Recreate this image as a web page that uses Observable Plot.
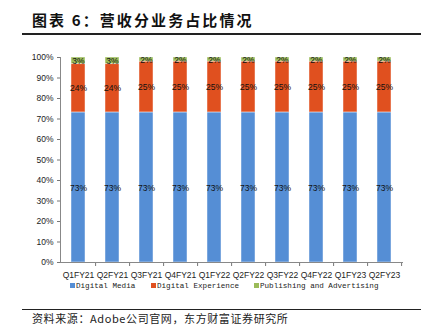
<!DOCTYPE html>
<html><head><meta charset="utf-8">
<script src="https://cdn.jsdelivr.net/npm/d3@7"></script>
<script src="https://cdn.jsdelivr.net/npm/@observablehq/plot@0.6"></script>
<style>
html,body{margin:0;padding:0;background:#fff;}
#root{position:relative;width:429px;height:335px;overflow:hidden;font-family:"Liberation Sans",Arial,sans-serif;}
.title{position:absolute;left:32px;top:9px;font-family:"Noto Sans CJK SC";font-weight:bold;font-size:15px;letter-spacing:2.1px;color:#111;white-space:nowrap;}
.hr{position:absolute;left:22px;width:399px;background:#222;}
.caption{position:absolute;left:32px;top:310px;font-family:"Noto Sans CJK SC";font-size:11px;letter-spacing:0.6px;color:#222;white-space:nowrap;}
#chart{position:absolute;left:0;top:45px;}
.legend{position:absolute;top:282px;left:0;width:429px;font-family:"Liberation Mono",monospace;font-size:7.6px;color:#222;white-space:nowrap;}
.legend span.item{position:absolute;top:0;}
.legend i{display:inline-block;width:5px;height:5px;margin-right:1px;vertical-align:0px;}
</style></head>
<body><div id="root">
<div class="title">图表 6：营收分业务占比情况</div>
<div class="hr" style="top:33px;height:1.5px"></div>
<div id="chart"></div>
<div class="legend" id="legend"></div>
<div class="hr" style="top:309px;height:1px"></div>
<div class="caption">资料来源：Adobe公司官网，东方财富证券研究所</div>
</div>
<script>
const quarters = ["Q1FY21","Q2FY21","Q3FY21","Q4FY21","Q1FY22","Q2FY22","Q3FY22","Q4FY22","Q1FY23","Q2FY23"];
const seriesNames = ["Digital Media","Digital Experience","Publishing and Advertising"];
const digitalMedia = [73.2,73.2,73.2,73.2,73.2,73.2,73.2,73.2,73.2,73.2];
const digitalExperience = [23.6,23.6,24.8,24.8,24.8,24.8,24.8,24.8,24.8,24.8];
const publishing = [3.2,3.2,2.0,2.0,2.0,2.0,2.0,2.0,2.0,2.0];
const colors = ["#558ED5","#E0501F","#9BBB59"];
const yTicks = [0,10,20,30,40,50,60,70,80,90,100];

const seriesValues = [digitalMedia, digitalExperience, publishing];
const rows = [];
quarters.forEach((q,i)=>{
  seriesNames.forEach((s,j)=>rows.push({q, s, v: seriesValues[j][i]}));
});

const W = 429, mL = 60, mR = 27;
const step = (W - mL - mR) / quarters.length;
const FONT = '"Liberation Sans Narrow", "Liberation Sans", Arial, sans-serif';

const plot = Plot.plot({
  width: W, height: 240,
  marginLeft: mL, marginRight: mR, marginTop: 12, marginBottom: 23,
  style: {fontFamily: FONT, fontSize: "8.5px", color: "#222", background: "transparent"},
  x: {domain: quarters, paddingInner: 0.59, paddingOuter: 0.295, label: null},
  y: {domain: [0,100], label: null},
  color: {domain: seriesNames, range: colors},
  marks: [
    Plot.barY(rows, Plot.stackY({x:"q", y:"v", fill:"s", order: seriesNames, stroke: "#ffffff", strokeOpacity: 0.45, strokeWidth: 1})),
    Plot.text(rows, Plot.stackY({x:"q", y:"v", z:"s", order: seriesNames, text: d => Math.round(d.v) + "%", fill:"#111", fontSize: 8.5, dy: 0.5})),
    Plot.axisY({ticks: yTicks, tickFormat: d => d + "%", tickSize: 3, tickPadding: 4, stroke:"#777", fill:"#222", fontSize: 8.5}),
    Plot.axisX({tickSize: 0, tickPadding: 9, fill:"#222", fontSize: 8.5}),
    Plot.axisX({tickSize: 4, tickFormat: () => "", dx: step/2, stroke:"#777"}),
    Plot.frame({anchor: "left", stroke: "#888"}),
    Plot.frame({anchor: "bottom", stroke: "#888"})
  ]
});
document.getElementById("chart").appendChild(plot);

const legend = document.getElementById("legend");
const lx = [70, 151, 254];
seriesNames.forEach((s,j)=>{
  const el = document.createElement("span");
  el.className = "item";
  el.style.left = lx[j] + "px";
  el.innerHTML = `<i style="background:${colors[j]}"></i>${s}`;
  legend.appendChild(el);
});
</script>
</body></html>
